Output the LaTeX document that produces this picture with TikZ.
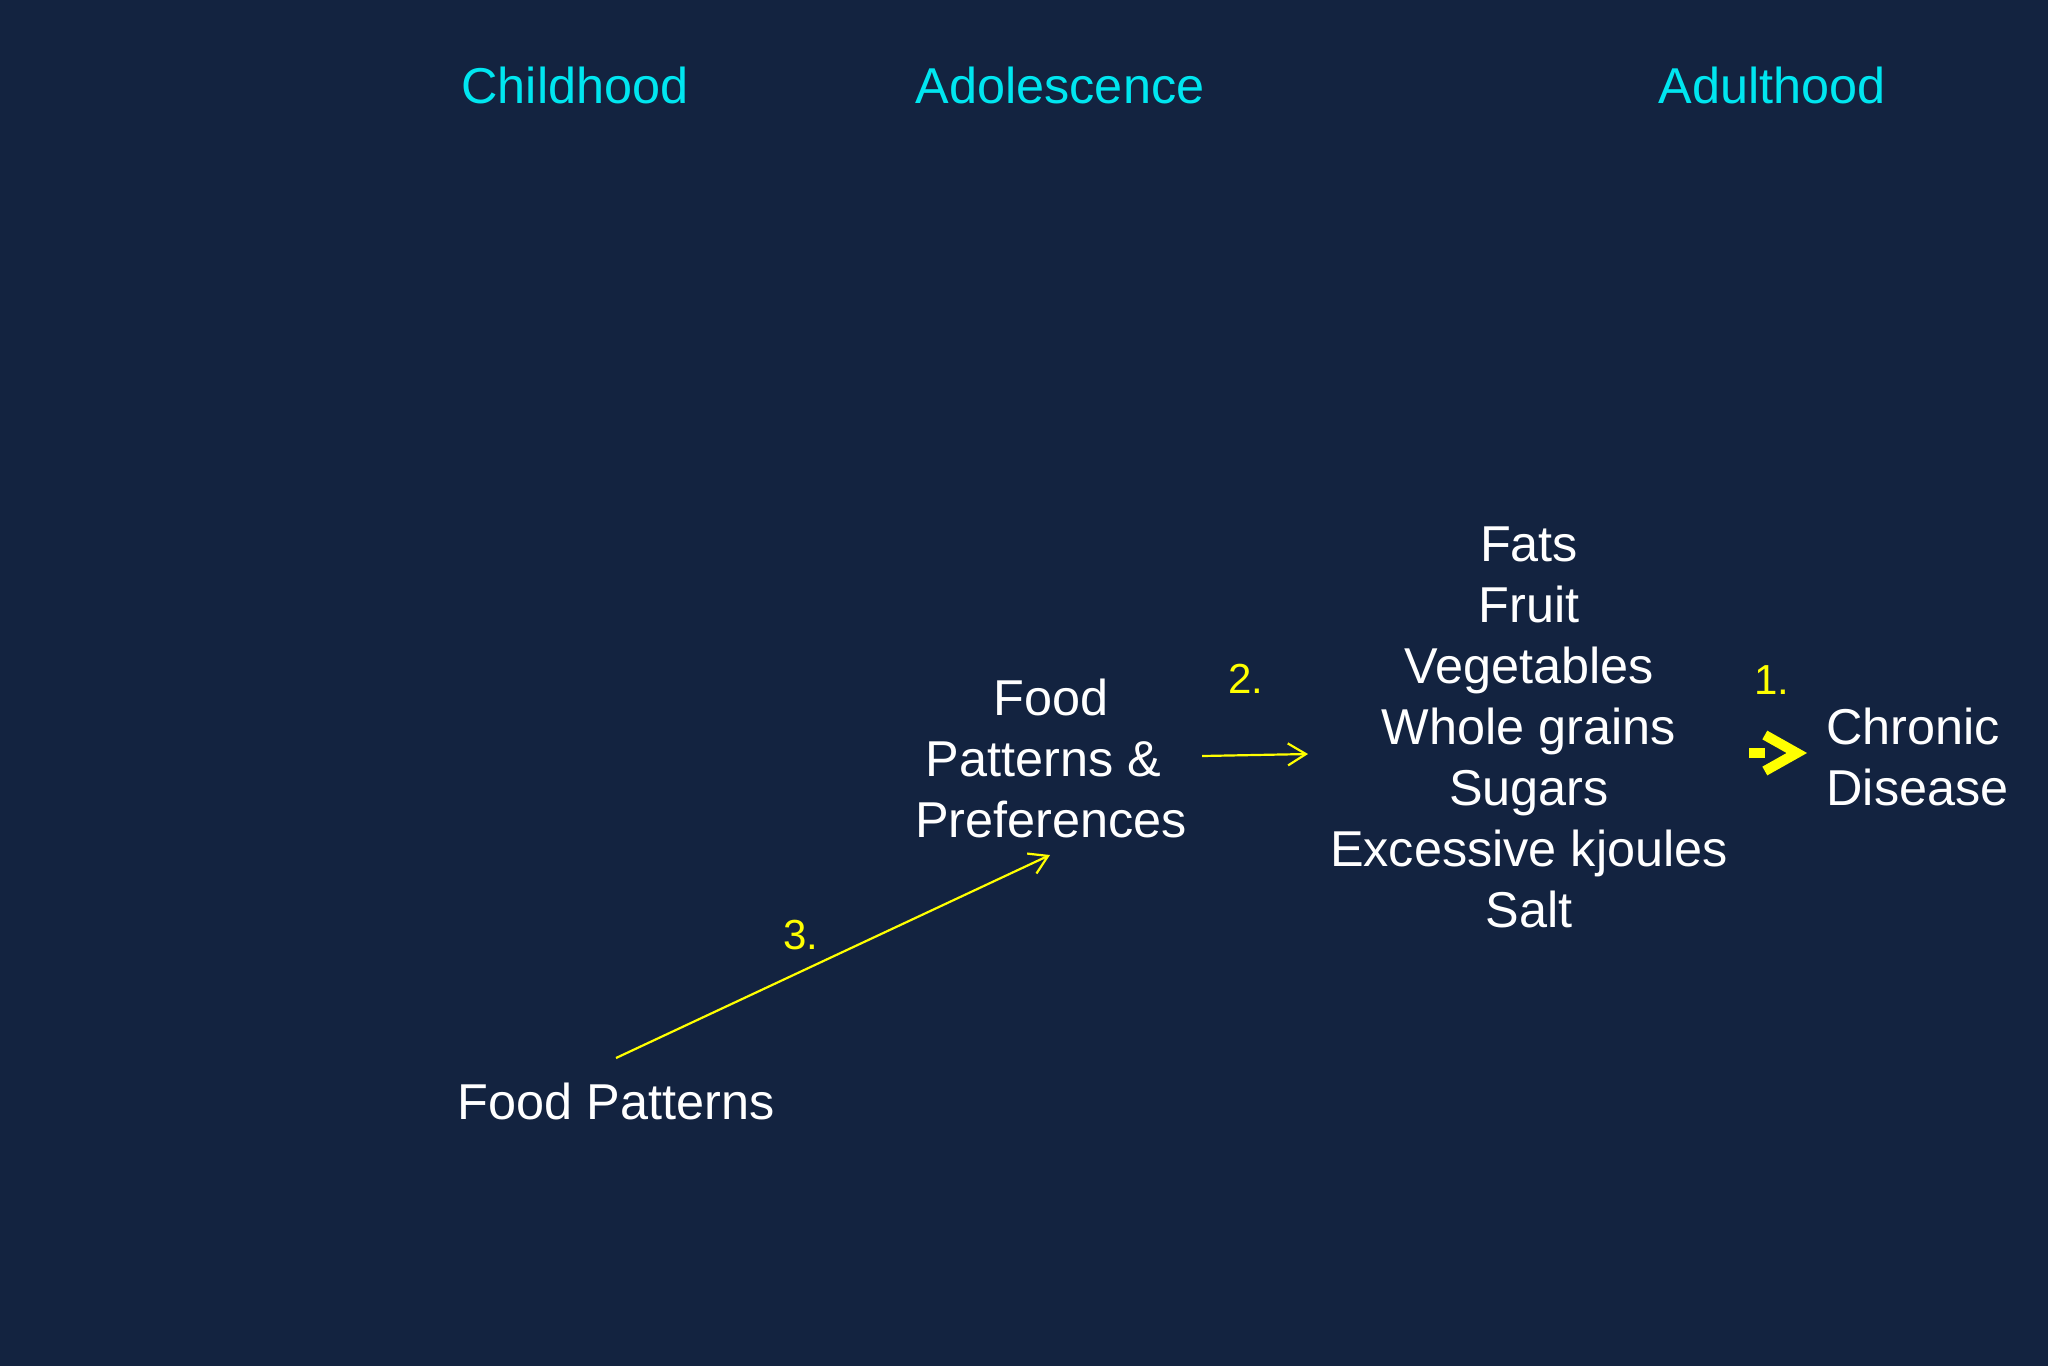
\documentclass[tikz,border=0pt]{standalone}
\usepackage{fontspec}
\setmainfont{Liberation Sans}
\usetikzlibrary{arrows.meta}
\definecolor{bg}{RGB}{19,35,64}
\definecolor{headcyan}{RGB}{0,230,240}
\definecolor{yel}{RGB}{255,255,0}
\begin{document}
\begin{tikzpicture}[x=0.5pt,y=-0.5pt,
  head/.style={font=\fontsize{25.2}{30.5}\selectfont, text=headcyan, inner sep=0pt},
  body/.style={font=\fontsize{25.2}{30.5}\selectfont, text=white, inner sep=0pt, align=center},
  num/.style={font=\fontsize{21}{25}\selectfont, text=yel, inner sep=0pt},
  conn/.style={draw=yel, line width=1.1pt, -{Straight Barb[length=9pt,width=11pt]}},
  chev/.style={draw=yel, line width=5pt, dash pattern=on 8pt off 40pt, -{Straight Barb[length=16pt,width=18pt]}}]
\fill[bg] (0,0) rectangle (2048,1366);
\useasboundingbox (0,0) rectangle (2048,1366);
% headings
\node[head] (hchild) at (575,85) {Childhood};
\node[head] (hadol) at (1060,85) {Adolescence};
\node[head] (hadult) at (1772,85) {Adulthood};
% body nodes
\node[body] (fp) at (616,1101) {Food Patterns};
\node[body] (fpp) at (1051,758) {Food\\Patterns \&\rule{0.3em}{0pt}\\Preferences};
\node[body] (list) at (1529,727) {Fats\\Fruit\\Vegetables\\Whole grains\\Sugars\\Excessive kjoules\\Salt};
\node[body, align=left, anchor=west] (cd) at (1826,757) {Chronic\\Disease};
% numbers
\node[num] (n1) at (1772,680) {1.};
\node[num] (n2) at (1246,679) {2.};
\node[num] (n3) at (801,935) {3.};
% connectors
\coordinate (a3s) at (616,1058);
\coordinate (a3e) at (1050,855);
\draw[conn] (a3s) -- (a3e);
\coordinate (a2s) at (1202,756);
\coordinate (a2e) at (1308,754);
\draw[conn] (a2s) -- (a2e);
\coordinate (a1s) at (1749,753);
\coordinate (a1e) at (1807,753);
\draw[chev] (a1s) -- (a1e);
\end{tikzpicture}
\end{document}
